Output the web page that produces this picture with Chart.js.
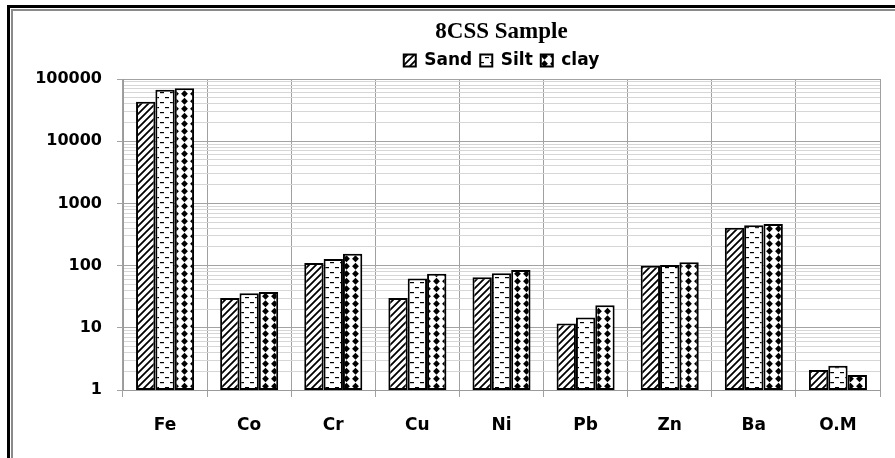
<!DOCTYPE html>
<html>
<head>
<meta charset="utf-8">
<script src="https://cdn.jsdelivr.net/npm/chart.js@4"></script>
<style>
  html, body { margin: 0; padding: 0; background: #ffffff; }
  #c { display: block; }
</style>
</head>
<body>
<canvas id="c" width="895" height="458"></canvas>
<script>
// ---- data ----
const categories = ['Fe', 'Co', 'Cr', 'Cu', 'Ni', 'Pb', 'Zn', 'Ba', 'O.M'];
const sandValues = [43000, 30, 110, 30, 65, 11.7, 99, 405, 2.1];
const siltValues = [67000, 36, 128, 62, 75, 14.7, 102, 447, 2.45];
const clayValues = [71000, 37.6, 155, 74, 85, 23, 113, 468, 1.75];
const seriesNames = ['Sand', 'Silt', 'clay'];
const yTickLabels = ['1', '10', '100', '1000', '10000', '100000'];
const decades = [1, 10, 100, 1000, 10000];
const minorSteps = [1, 2, 3, 4, 5, 6, 7, 8, 9];
const chartTitle = '8CSS Sample';

// tick values (major powers of ten plus minor 2..9 steps)
const yTickValues = [];
decades.forEach(d => minorSteps.forEach(m => yTickValues.push(d * m)));
yTickValues.push(100000);
const isMajor = v => yTickLabels.includes(String(v));

// ---- fill patterns ----
function makePattern(kind) {
  const t = document.createElement('canvas');
  const g = t.getContext('2d');
  if (kind === 'sand') {
    t.width = 7; t.height = 7;
    g.fillStyle = '#fff'; g.fillRect(0, 0, 7, 7);
    g.strokeStyle = '#000'; g.lineWidth = 1.8;
    g.beginPath();
    g.moveTo(-1, 8); g.lineTo(8, -1);
    g.moveTo(-1, 1); g.lineTo(1, -1);
    g.moveTo(6, 8); g.lineTo(8, 6);
    g.stroke();
  } else if (kind === 'silt') {
    t.width = 10; t.height = 10;
    g.fillStyle = '#fff'; g.fillRect(0, 0, 10, 10);
    g.fillStyle = '#000';
    g.fillRect(0, 2, 4, 1.2);
    g.fillRect(5, 7, 4, 1.2);
  } else {
    t.width = 9; t.height = 15;
    g.fillStyle = '#fff'; g.fillRect(0, 0, 9, 15);
    g.fillStyle = '#000';
    [[4.5, 3.75], [4.5, 11.25]].forEach(([cx, cy]) => {
      g.beginPath();
      g.moveTo(cx, cy - 3.4); g.lineTo(cx + 3.4, cy); g.lineTo(cx, cy + 3.4); g.lineTo(cx - 3.4, cy);
      g.closePath(); g.fill();
    });
  }
  return document.getElementById('c').getContext('2d').createPattern(t, 'repeat');
}

const framePlugin = {
  id: 'frame',
  beforeDraw(chart) {
    const ctx = chart.ctx;
    ctx.save();
    ctx.fillStyle = '#ffffff';
    ctx.fillRect(0, 0, chart.width, chart.height);
    ctx.fillStyle = '#000000';
    ctx.fillRect(7, 5, chart.width - 7, 3);
    ctx.fillRect(7, 5, 3, chart.height - 5);
    ctx.fillStyle = '#8a8a8a';
    ctx.fillRect(11, 9, chart.width - 11, 2);
    ctx.fillRect(11, 9, 2, chart.height - 9);
    ctx.restore();
  }
};

const sansBold = (size) => ({ family: "'DejaVu Sans', sans-serif", weight: 'bold', size });

new Chart(document.getElementById('c'), {
  type: 'bar',
  data: {
    labels: categories,
    datasets: [
      { label: seriesNames[0], data: sandValues, backgroundColor: makePattern('sand') },
      { label: seriesNames[1], data: siltValues, backgroundColor: makePattern('silt') },
      { label: seriesNames[2], data: clayValues, backgroundColor: makePattern('clay') }
    ].map(d => Object.assign(d, {
      borderColor: '#000000',
      borderWidth: 2,
      borderSkipped: false,
      categoryPercentage: 0.69,
      barPercentage: 1.0
    }))
  },
  options: {
    responsive: false,
    animation: false,
    devicePixelRatio: 1,
    layout: { padding: { left: 0, right: 15, top: 8, bottom: 0 } },
    plugins: {
      title: {
        display: true,
        fullSize: false,
        text: chartTitle,
        color: '#000000',
        font: { family: "'Liberation Serif', serif", weight: 'bold', size: 23, lineHeight: 1.0 },
        padding: { top: 13, bottom: 0 }
      },
      legend: {
        display: true,
        fullSize: false,
        position: 'top',
        labels: {
          color: '#000000',
          font: sansBold(17),
          boxWidth: 12,
          boxHeight: 12,
          padding: 8
        }
      },
      tooltip: { enabled: false }
    },
    scales: {
      x: {
        grid: { color: '#a0a0a0', lineWidth: 1, tickLength: 7, offset: true, tickColor: '#a0a0a0' },
        border: { color: '#9a9a9a' },
        ticks: { color: '#000000', font: sansBold(17), padding: 18, maxRotation: 0 },
        afterFit(scale) { scale.height = 68; }
      },
      y: {
        type: 'logarithmic',
        min: 1,
        max: 100000,
        afterBuildTicks(scale) {
          scale.ticks = yTickValues.map(v => ({ value: v, major: isMajor(v) }));
        },
        afterFit(scale) { scale.width = 123; },
        grid: {
          color: (c) => (c.tick && isMajor(c.tick.value)) ? '#a3a3a3' : '#d6d6d6',
          tickColor: (c) => (c.tick && isMajor(c.tick.value)) ? '#a3a3a3' : 'rgba(0,0,0,0)',
          tickLength: 6,
          lineWidth: 1
        },
        border: { color: '#9a9a9a' },
        ticks: {
          autoSkip: false,
          color: '#000000',
          font: sansBold(16),
          padding: 15,
          callback: (v) => isMajor(v) ? String(v) : ''
        }
      }
    }
  },
  plugins: [framePlugin]
});
</script>
</body>
</html>
